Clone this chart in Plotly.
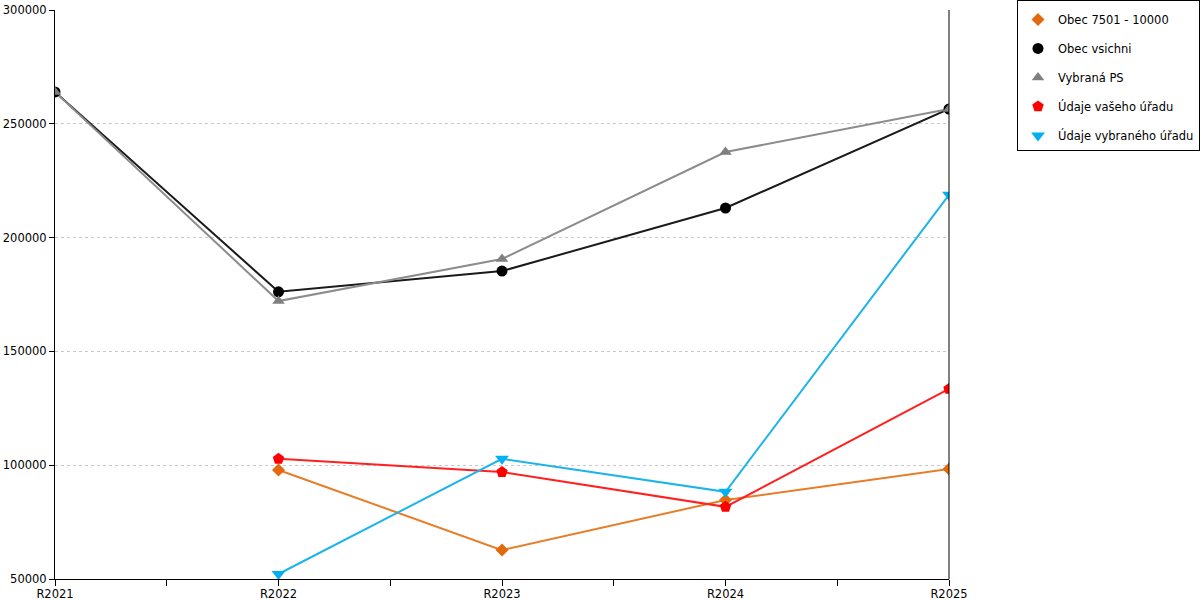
import plotly.graph_objects as go

categories = ["R2021", "R2022", "R2023", "R2024", "R2025"]

obec_7501_10000 = [None, 97900, 62700, 84700, 98300]
obec_vsichni = [264000, 176200, 185300, 213000, 256500]
vybrana_ps = [264000, 172100, 190600, 237600, 256500]
udaje_vaseho = [None, 102800, 97000, 81700, 133500]
udaje_vybraneho = [None, 52200, 102800, 88300, 218800]

y_ticks = [50000, 100000, 150000, 200000, 250000, 300000]

series = [
    ("Obec 7501 - 10000", obec_7501_10000, "#E87D28", "#E2690C", "diamond", 10),
    ("Obec vsichni", obec_vsichni, "#1A1A1A", "#000000", "circle", 11),
    ("Vybraná PS", vybrana_ps, "#8C8C8C", "#7F7F7F", "triangle-up", 11),
    ("Údaje vašeho úřadu", udaje_vaseho, "#FF2020", "#FF0000", "pentagon", 12),
    ("Údaje vybraného úřadu", udaje_vybraneho, "#1EB4EA", "#00B0F0", "triangle-down", 12),
]

x_idx = list(range(len(categories)))

fig = go.Figure()
for i, (name, vals, lc, mc, sym, sz) in enumerate(series):
    fig.add_trace(go.Scatter(
        x=x_idx, y=vals, name=name, mode="lines",
        line=dict(color=lc, width=2),
        legendgroup=f"g{i}", showlegend=False, connectgaps=False,
        hoverinfo="skip",
    ))
for i, (name, vals, lc, mc, sym, sz) in enumerate(series):
    fig.add_trace(go.Scatter(
        x=x_idx, y=vals, name=name, mode="markers",
        marker=dict(color=mc, symbol=sym, size=sz, line=dict(width=0)),
        legendgroup=f"g{i}",
    ))

fig.update_layout(
    width=1200, height=600,
    margin=dict(l=55, r=251, t=10, b=21, autoexpand=False),
    paper_bgcolor="white", plot_bgcolor="white",
    font=dict(family="DejaVu Sans", size=11, color="black"),
    showlegend=True,
    legend=dict(
        x=(1017 - 55) / 894, y=(579 - 0) / 569, xanchor="left", yanchor="top",
        bordercolor="black", borderwidth=1,
        font=dict(family="DejaVu Sans", size=11.5, color="black"),
        tracegroupgap=10, traceorder="grouped",
        itemwidth=30,
        title=dict(text=" ", font=dict(size=3)),
    ),
    xaxis=dict(
        range=[0, len(categories) - 1],
        tickvals=x_idx, ticktext=categories,
        showgrid=False, zeroline=False,
        showline=True, linecolor="black", linewidth=1,
        ticks="outside", ticklen=4, tickcolor="black",
        minor=dict(ticks="outside", ticklen=6, tickcolor="black", dtick=0.5, tick0=0, showgrid=False),
        tickfont=dict(size=11.5),
    ),
    yaxis=dict(
        range=[50000, 300000],
        tickvals=y_ticks, ticktext=[str(v) for v in y_ticks],
        showgrid=True, gridcolor="#C8C8C8", griddash="dot", gridwidth=1,
        zeroline=False,
        showline=True, linecolor="black", linewidth=1,
        ticks="outside", ticklen=5, tickcolor="black",
        tickfont=dict(size=11.5),
    ),
    shapes=[dict(type="line", xref="paper", yref="paper", x0=1, x1=1, y0=0, y1=1,
                 line=dict(color="black", width=1))],
)

fig.write_html("out.html", config={"displayModeBar": False},
               post_script="document.body.style.margin='0';")
